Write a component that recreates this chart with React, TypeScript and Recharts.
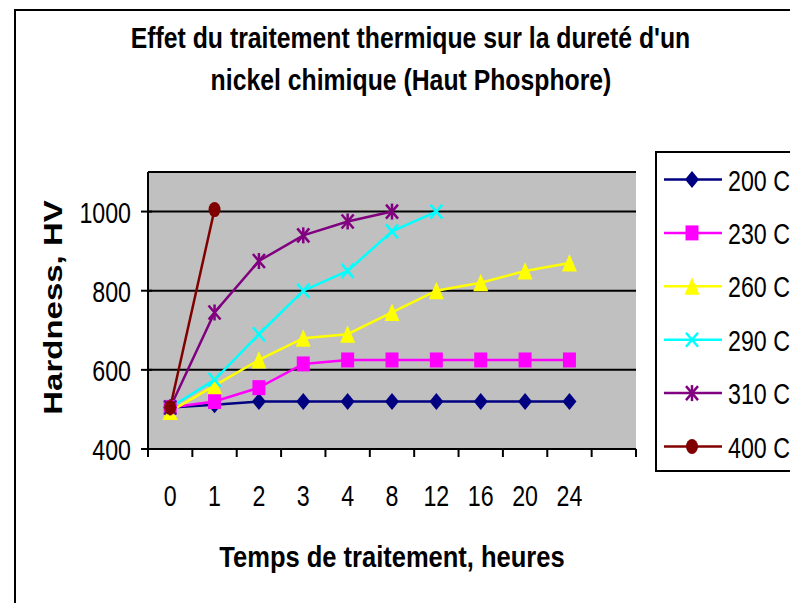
import React from 'react';
import { LineChart, Line, XAxis, YAxis, CartesianGrid, Legend } from 'recharts';

// treatment times (hours) - last category is an empty slot like in the original sheet
const times = ['0', '1', '2', '3', '4', '8', '12', '16', '20', '24', ''];

// hardness HV per treatment temperature
const hv200 = [505, 512, 520, 520, 520, 520, 520, 520, 520, 520];
const hv230 = [505, 520, 555, 615, 625, 625, 625, 625, 625, 625];
const hv260 = [495, 560, 625, 680, 690, 745, 800, 820, 850, 870];
const hv290 = [505, 575, 690, 800, 850, 950, 1000];
const hv310 = [505, 745, 875, 940, 975, 1000];
const hv400 = [505, 1005];

const yTicks = [400, 600, 800, 1000];

const series = [
  { key: 't200', name: '200 C', values: hv200, color: '#000080', shape: 'diamond' },
  { key: 't230', name: '230 C', values: hv230, color: '#FF00FF', shape: 'square' },
  { key: 't260', name: '260 C', values: hv260, color: '#FFFF00', shape: 'triangle' },
  { key: 't290', name: '290 C', values: hv290, color: '#00FFFF', shape: 'x' },
  { key: 't310', name: '310 C', values: hv310, color: '#800080', shape: 'star' },
  { key: 't400', name: '400 C', values: hv400, color: '#800000', shape: 'circle' },
];

const data = times.map((t, i) => {
  const row: Record<string, any> = { time: t };
  series.forEach((s) => {
    row[s.key] = s.values[i] ?? null;
  });
  return row;
});

const FONT = '"Liberation Sans", Arial, sans-serif';

// plot box
const PLOT_LEFT = 148;
const PLOT_RIGHT = 636;
const PLOT_TOP = 172;
const PLOT_BOTTOM = 449;
const X_AXIS_H = 60;
const BAND = (PLOT_RIGHT - PLOT_LEFT) / times.length;

const Marker = ({ kind, cx, cy, color }: any) => {
  if (cx == null || cy == null || isNaN(cx) || isNaN(cy)) return null;
  switch (kind) {
    case 'diamond':
      return <polygon points={`${cx},${cy - 8.5} ${cx + 7},${cy} ${cx},${cy + 8.5} ${cx - 7},${cy}`} fill={color} />;
    case 'square':
      return <rect x={cx - 6.5} y={cy - 7.5} width={13} height={15} fill={color} />;
    case 'triangle':
      return <polygon points={`${cx},${cy - 9} ${cx + 7.5},${cy + 8.5} ${cx - 7.5},${cy + 8.5}`} fill={color} />;
    case 'x':
      return (
        <g stroke={color} strokeWidth={2.5}>
          <line x1={cx - 6} y1={cy - 7} x2={cx + 6} y2={cy + 7} />
          <line x1={cx - 6} y1={cy + 7} x2={cx + 6} y2={cy - 7} />
        </g>
      );
    case 'star':
      return (
        <g stroke={color} strokeWidth={2.5}>
          <line x1={cx - 6} y1={cy - 7} x2={cx + 6} y2={cy + 7} />
          <line x1={cx - 6} y1={cy + 7} x2={cx + 6} y2={cy - 7} />
          <line x1={cx} y1={cy - 8} x2={cx} y2={cy + 8} />
        </g>
      );
    default:
      return <ellipse cx={cx} cy={cy} rx={6} ry={7.5} fill={color} />;
  }
};

const YTick = ({ x, y, payload }: any) => (
  <g>
    <line x1={x - 7} x2={x + 4} y1={y} y2={y} stroke="#000" strokeWidth={2} />
    <text
      transform={`translate(${x - 17},${y + 11}) scale(0.8,1)`}
      textAnchor="end"
      fontSize={29}
      fontFamily={FONT}
      fill="#000"
    >
      {payload.value}
    </text>
  </g>
);

const XTick = ({ x, y, payload, index }: any) => (
  <g>
    <line x1={x - BAND / 2} x2={x - BAND / 2} y1={y} y2={y + 8} stroke="#000" strokeWidth={2} />
    {index === times.length - 1 && (
      <line x1={x + BAND / 2} x2={x + BAND / 2} y1={y} y2={y + 8} stroke="#000" strokeWidth={2} />
    )}
    <text
      transform={`translate(${x},${y + 57}) scale(0.8,1)`}
      textAnchor="middle"
      fontSize={29}
      fontFamily={FONT}
      fill="#000"
    >
      {payload.value}
    </text>
  </g>
);

const renderLegend = () => (
  <svg width={135} height={322} style={{ display: 'block' }}>
    <rect x={1} y={1} width={200} height={319} fill="#fff" stroke="#000" strokeWidth={2} />
    {series.map((s, i) => {
      const cy = 28.5 + i * 53.4;
      return (
        <g key={s.key}>
          <line x1={9} x2={67} y1={cy} y2={cy} stroke={s.color} strokeWidth={2.5} />
          <Marker kind={s.shape} cx={37} cy={cy} color={s.color} />
          <text
            transform={`translate(73,${cy + 11}) scale(0.8,1)`}
            fontSize={29}
            fontFamily={FONT}
            fill="#000"
          >
            {s.name}
          </text>
        </g>
      );
    })}
  </svg>
);

export default function App() {
  return (
    <div
      style={{
        position: 'absolute',
        left: 0,
        top: 0,
        width: 790,
        height: 603,
        overflow: 'hidden',
        background: '#fff',
      }}
    >
      <div
        style={{
          position: 'absolute',
          left: 14,
          top: 9,
          width: 840,
          height: 660,
          border: '2px solid #000',
          boxSizing: 'border-box',
        }}
      />
      <LineChart
        width={790}
        height={603}
        data={data}
        margin={{ top: PLOT_TOP, right: 790 - PLOT_RIGHT, bottom: 603 - PLOT_BOTTOM - X_AXIS_H, left: 0 }}
      >
        <CartesianGrid
          vertical={false}
          stroke="#000"
          strokeWidth={2}
          fill="#C0C0C0"
          fillOpacity={1}
        />
        <XAxis
          dataKey="time"
          interval={0}
          height={X_AXIS_H}
          padding={{ left: BAND / 2, right: BAND / 2 }}
          axisLine={{ stroke: '#000', strokeWidth: 2 }}
          tickLine={false}
          tickSize={0}
          tickMargin={0}
          tick={<XTick />}
        />
        <XAxis
          xAxisId="top"
          dataKey="time"
          orientation="top"
          height={0}
          tick={false}
          tickLine={false}
          axisLine={{ stroke: '#808080', strokeWidth: 2 }}
        />
        <YAxis
          type="number"
          domain={[400, 1100]}
          ticks={yTicks}
          width={PLOT_LEFT}
          allowDataOverflow
          axisLine={{ stroke: '#000', strokeWidth: 2 }}
          tickLine={false}
          tickSize={0}
          tickMargin={0}
          tick={<YTick />}
        />
        <YAxis
          yAxisId="right"
          orientation="right"
          type="number"
          domain={[400, 1100]}
          width={0}
          tick={false}
          tickLine={false}
          axisLine={{ stroke: '#808080', strokeWidth: 2 }}
        />
        <Legend
          layout="horizontal"
          align="center"
          verticalAlign="middle"
          content={renderLegend}
          wrapperStyle={{ left: 655, top: 151, width: 135, height: 322 }}
        />
        {series.map((s) => (
          <Line
            key={s.key}
            dataKey={s.key}
            name={s.name}
            stroke={s.color}
            strokeWidth={2.5}
            isAnimationActive={false}
            activeDot={false}
            dot={(p: any) => (
              <Marker
                key={`${s.key}-${p.index}`}
                kind={s.shape}
                cx={p.cx}
                cy={p.value == null ? null : p.cy}
                color={s.color}
              />
            )}
          />
        ))}
      </LineChart>
      <svg
        width={790}
        height={603}
        style={{ position: 'absolute', left: 0, top: 0, pointerEvents: 'none' }}
      >
        <g fontFamily={FONT} fontWeight="bold" fill="#000">
          <text transform="translate(410.5,48) scale(0.855,1)" textAnchor="middle" fontSize={29}>
            Effet du traitement thermique sur la dureté d'un
          </text>
          <text transform="translate(411,90) scale(0.855,1)" textAnchor="middle" fontSize={29}>
            nickel chimique (Haut Phosphore)
          </text>
          <text transform="translate(62,307.5) scale(0.78,1) rotate(-90)" textAnchor="middle" fontSize={33}>
            Hardness, HV
          </text>
          <text transform="translate(392,567) scale(0.88,1)" textAnchor="middle" fontSize={29}>
            Temps de traitement, heures
          </text>
        </g>
      </svg>
    </div>
  );
}
